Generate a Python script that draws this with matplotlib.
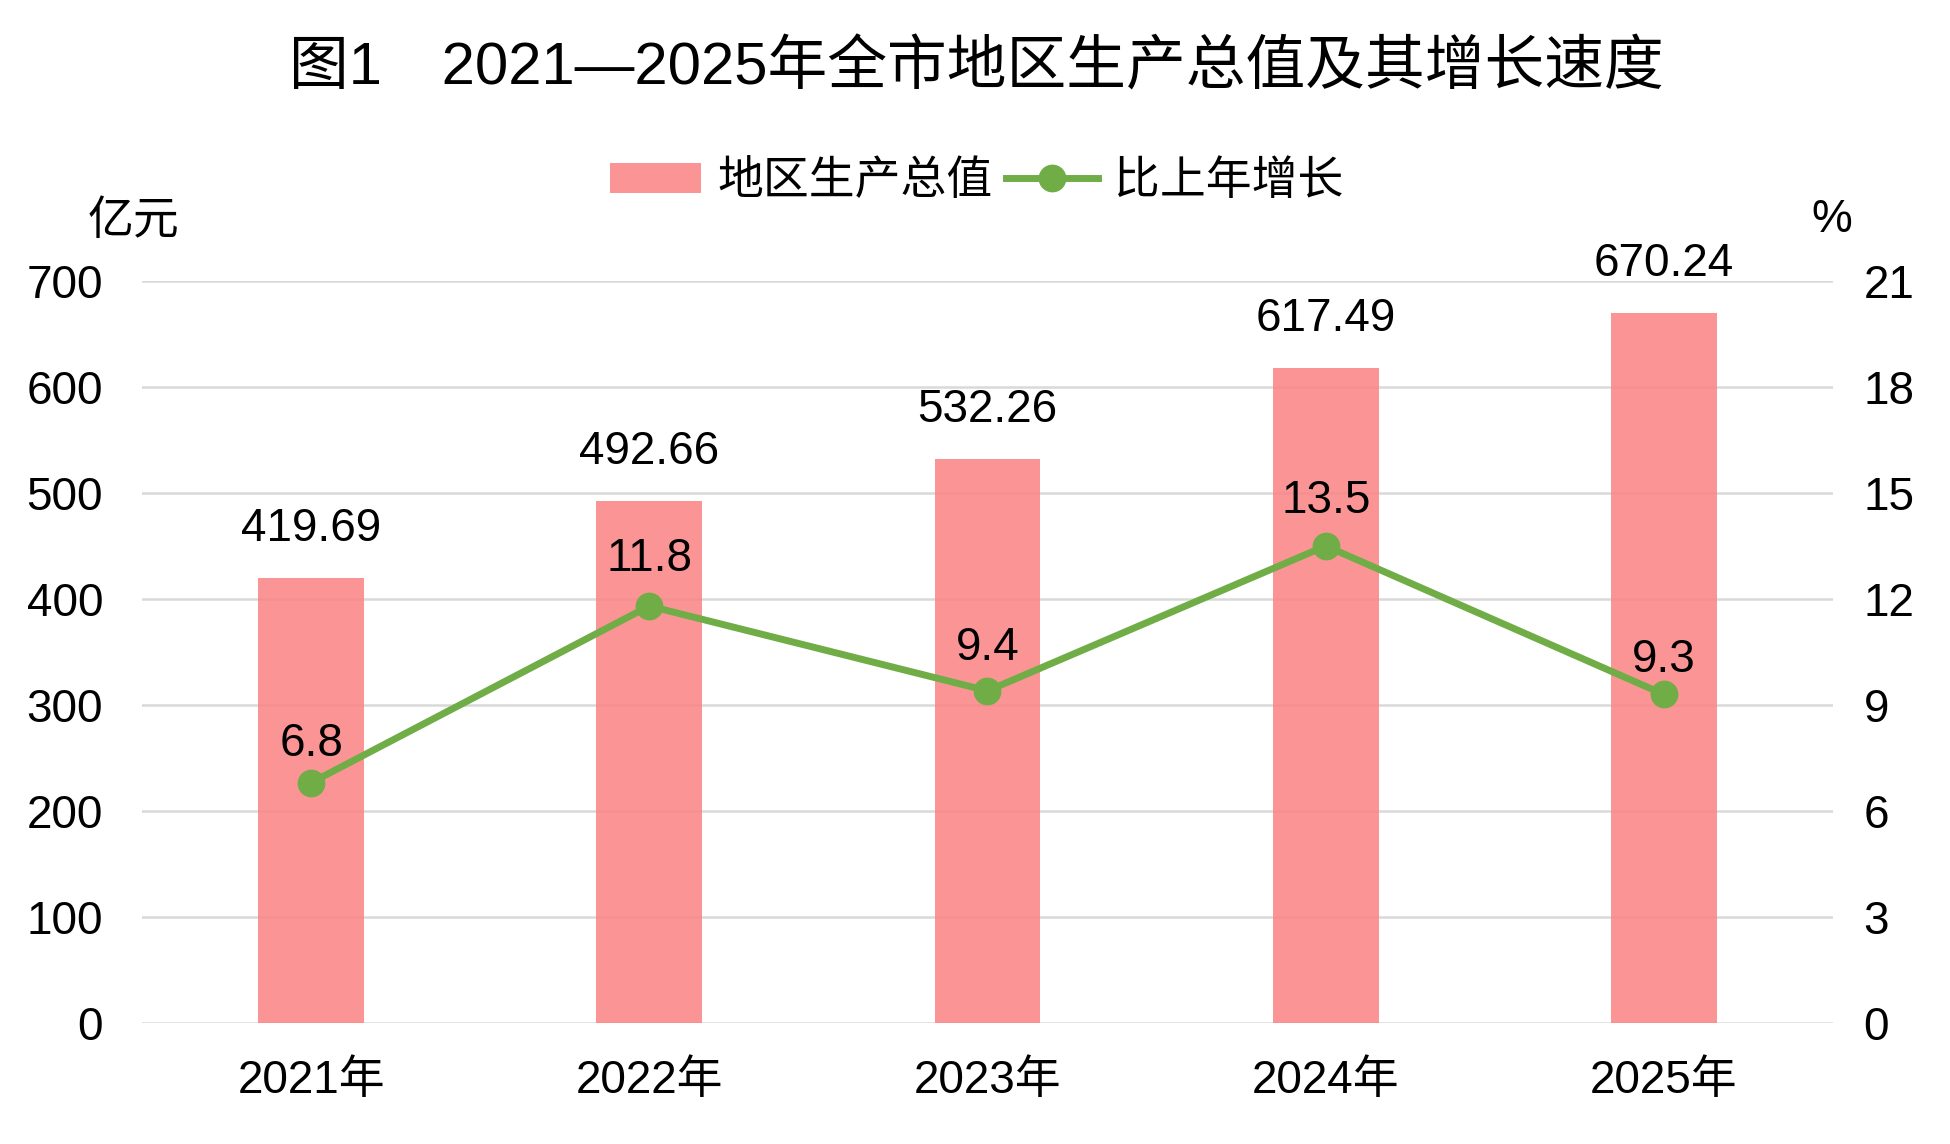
import matplotlib
matplotlib.use("Agg")
import matplotlib.pyplot as plt
from matplotlib.lines import Line2D
from matplotlib.patches import Patch

plt.rcParams['font.family'] = ['Liberation Sans', 'Noto Sans CJK SC', 'DejaVu Sans']

years = ["2021年", "2022年", "2023年", "2024年", "2025年"]
gdp = [419.69, 492.66, 532.26, 617.49, 670.24]
growth = [6.8, 11.8, 9.4, 13.5, 9.3]
left_ticks = [0, 100, 200, 300, 400, 500, 600, 700]
right_ticks = [0, 3, 6, 9, 12, 15, 18, 21]

title = "图1\u30002021—2025年全市地区生产总值及其增长速度"
series_names = ["地区生产总值", "比上年增长"]

# label offsets (points) above the line markers
growth_label_offsets = [19, 25, 22, 24, 16]

bar_color = (251/255, 131/255, 131/255)
bar_alpha = 0.85
line_color = "#70AD47"
grid_color = "#D9D9D9"
fs = 33

fig = plt.figure(figsize=(19.5, 11.44), dpi=100)
ax = fig.add_axes([0.0728, 0.1058, 0.9400 - 0.0728, 0.7544 - 0.1058])
ax2 = ax.twinx()

x = list(range(len(years)))
ax.bar(x, gdp, width=0.313, color=bar_color, alpha=bar_alpha, zorder=3)
ax.set_ylim(0, 700)
ax.set_xlim(-0.5, len(years) - 0.5)
ax.set_yticks(left_ticks)
ax.set_yticklabels([str(v) for v in left_ticks])
ax.grid(axis='y', color=grid_color, linewidth=1.8, zorder=0)
ax.set_axisbelow(True)
ax.set_xticks(x)
ax.set_xticklabels(years)
ax.tick_params(axis='both', length=0, labelsize=fs, colors='black')
ax.tick_params(axis='y', pad=28)
ax.tick_params(axis='x', pad=26)
for s in ax.spines.values():
    s.set_visible(False)

for xi, v in zip(x, gdp):
    ax.annotate(f"{v:.2f}", (xi, v), xytext=(0, 26.6), textcoords='offset points',
                ha='center', va='baseline', fontsize=fs, color='black', zorder=6)

ax2.plot(x, growth, color=line_color, linewidth=5, marker='o', markersize=19,
         zorder=5, solid_capstyle='round')
ax2.set_ylim(0, 21)
ax2.set_yticks(right_ticks)
ax2.set_yticklabels([str(v) for v in right_ticks])
ax2.tick_params(axis='y', length=0, labelsize=fs, colors='black', pad=22)
for s in ax2.spines.values():
    s.set_visible(False)
for xi, v, off in zip(x, growth, growth_label_offsets):
    ax2.annotate(f"{v}", (xi, v), xytext=(0, off), textcoords='offset points',
                 ha='center', va='baseline', fontsize=fs, color='black', zorder=7)

fig.text(0.5008, 0.9406, title, ha='center', va='center', fontsize=43, color='black')
fig.text(0.0685, 0.806, "亿元", ha='center', va='center', fontsize=fs, color='black')
fig.text(0.9395, 0.808, "%", ha='center', va='center', fontsize=fs, color='black')

handles = [
    Patch(facecolor=bar_color, alpha=bar_alpha, edgecolor='none'),
    Line2D([0], [0], color=line_color, linewidth=5, marker='o', markersize=19),
]
fig.legend(handles, series_names, loc='center', bbox_to_anchor=(0.5008, 0.841),
           ncol=2, frameon=False, fontsize=fs, handlelength=2.0, handleheight=0.65,
           handletextpad=0.35, columnspacing=0.3, borderaxespad=0)

fig.savefig("out.png", dpi=100)
